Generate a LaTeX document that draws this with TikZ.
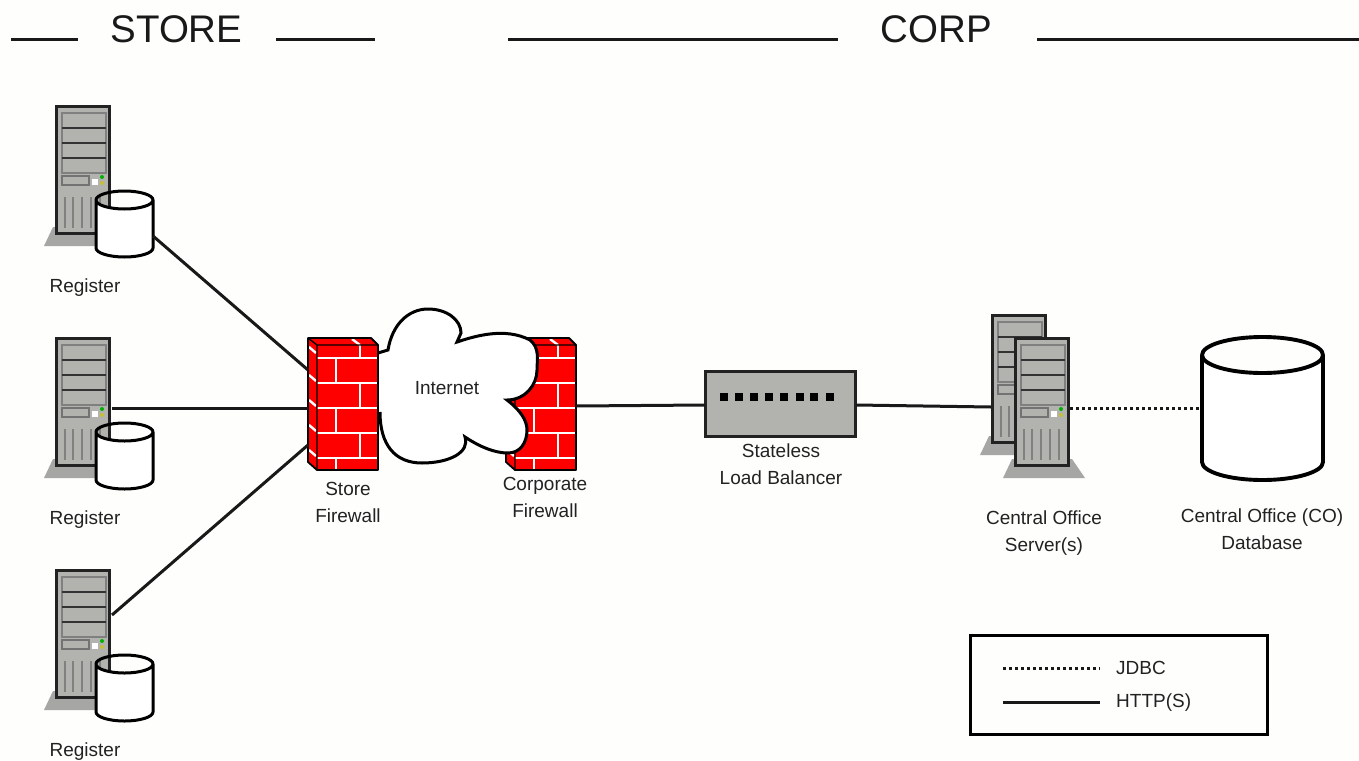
\documentclass[tikz,border=0pt]{standalone}
\usepackage{fontspec}
\setmainfont{Liberation Sans}
\usepackage{tikz}
\tikzset{>=latex}
\definecolor{towergrey}{HTML}{B2B2AE}
\definecolor{basegrey}{HTML}{A6A6A4}
\definecolor{inkgrey}{HTML}{222222}
\definecolor{brickred}{HTML}{FF0000}
\definecolor{paper}{HTML}{FEFEFC}
\tikzset{
  wire/.style={line width=3pt,color=black!90},
  rule/.style={line width=3pt,color=black!90},
  jdbcwire/.style={line width=3pt,color=black!90,dash pattern=on 3pt off 3pt},
  heading/.style={font=\fontsize{38.5}{42}\selectfont,text=black!90,inner sep=0pt},
  devlabel/.style={font=\fontsize{19}{26.5}\selectfont,text=inkgrey,align=center,inner sep=0pt},
  legendlabel/.style={font=\fontsize{19}{22}\selectfont,text=inkgrey,anchor=west,inner sep=0pt},
  balancer/.style={draw=inkgrey,line width=2.8pt,fill=towergrey,minimum width=150pt,minimum height=65pt,inner sep=0pt},
  legendbox/.style={draw=black,line width=3pt,minimum width=297pt,minimum height=99pt,inner sep=0pt},
  pics/tower/.style={code={
    \fill[basegrey] (-2,122) -- (58,122) -- (71,141) -- (-11,141) -- cycle;
    \draw[inkgrey,line width=3pt,fill=towergrey] (1.5,1.5) rectangle (54.5,128.5);
    \draw[black!50,line width=1.4pt] (7,8) rectangle (51,68);
    \foreach \y in {23,38,53} {
      \draw[black!80,line width=1.6pt] (7,\y) -- (51,\y);
    }
    \draw[black!55,line width=1.4pt] (7,71) rectangle (34,80);
    \fill[white] (37,74) rectangle (43,80);
    \fill[green!70!black] (47,72) circle (2pt);
    \fill[yellow!75!black] (47,78) circle (2pt);
    \foreach \x in {10,18,27,36,45} {
      \draw[black!50,line width=1.4pt] (\x,92) -- (\x,123);
    }
  }},
  pics/firewall/.style={code={
    \fill[brickred] (0,0) -- (63,0) -- (70,7) -- (70,132) -- (9,132) -- (0,124) -- cycle;
    \foreach \y in {20,45,70,95,120} {
      \draw[white,line width=2.4pt] (9,\y) -- (70,\y);
    }
    \draw[white,line width=2.4pt] (52,7) -- (52,20) (28,20) -- (28,45) (52,45) -- (52,70)
      (28,70) -- (28,95) (52,95) -- (52,120) (28,120) -- (28,132);
    \draw[white,line width=2.4pt] (44,1) -- (52,7);
    \foreach \y in {12,40,65,90,115} {
      \draw[white,line width=2.4pt] (1,\y-3) -- (8,\y+3);
    }
    \draw[black,line width=1.8pt,line join=round] (0,0) -- (63,0) -- (70,7) -- (70,132) -- (9,132) -- (0,124) -- cycle;
    \draw[black,line width=1.4pt] (0,0) -- (9,7) -- (9,132) (9,7) -- (70,7);
  }}
}
\newcommand{\dbcyl}[5]{% left, top centre, x radius, height, y radius
  \draw[black,line join=round,line width=#5/9*0.9pt+2.1pt,fill=white] (#1,#2) arc[start angle=180,end angle=0,x radius=#3,y radius=#5]
    -- (#1+2*#3,#2+#4) arc[start angle=0,end angle=180,x radius=#3,y radius=#5] -- cycle;
  \draw[black,line width=#5/9*0.9pt+2.1pt] (#1,#2) arc[start angle=180,end angle=360,x radius=#3,y radius=#5];
}

\begin{document}
\begin{tikzpicture}[x=1pt,y=-1pt]
  \useasboundingbox[fill=paper] (0,0) rectangle (1359,760);

  % section headings
  \node[heading] (store) at (176.5,29) {STORE};
  \node[heading] (corp) at (936.5,29) {CORP};
  \coordinate (s1) at (11,40);
  \coordinate (s2) at (78,40);
  \coordinate (s3) at (276,40);
  \coordinate (s4) at (375,40);
  \coordinate (c1) at (508,40);
  \coordinate (c2) at (838,40);
  \coordinate (c3) at (1037,40);
  \coordinate (c4) at (1359,40);
  \draw[rule] (s1) -- (s2);
  \draw[rule] (s3) -- (s4);
  \draw[rule] (c1) -- (c2);
  \draw[rule] (c3) -- (c4);

  % registers
  \foreach \i/\y in {1/105,2/337,3/569} {
    \pic at (55,\y) {tower};
    \dbcyl{96}{\y+95}{28.5}{48}{9}
    \node[devlabel] (reg\i) at (85,\y+183) {Register};
  }
  \coordinate (db1) at (153,236);
  \coordinate (tw2) at (112,408);
  \coordinate (tw3) at (112,615);

  % firewalls and cloud
  \pic at (506,338) {firewall};
  \draw[black,line width=3pt,fill=white] (378,353) -- (388,350)
    .. controls (392,325) and (408,309) .. (428,309)
    .. controls (447,309) and (461,320) .. (461,333)
    -- (457,342)
    .. controls (475,336) and (505,327) .. (530,340)
    .. controls (540,348) and (537,360) .. (537,370)
    .. controls (537,385) and (525,400) .. (507,400)
    .. controls (520,410) and (527,420) .. (527,430)
    .. controls (527,443) and (520,453) .. (508,453)
    .. controls (495,453) and (480,447) .. (465,437)
    .. controls (470,452) and (450,463) .. (422,463)
    .. controls (395,463) and (380,445) .. (380,412);
  \pic at (308,338) {firewall};
  \node[devlabel] (inet) at (447,388) {Internet};
  \node[devlabel] (storefw) at (348,502.5) {Store\\Firewall};
  \node[devlabel] (corpfw) at (545,497.5) {Corporate\\Firewall};
  \coordinate (sf1) at (308,370);
  \coordinate (sf2) at (308,408);
  \coordinate (sf3) at (308,445);
  \coordinate (cf) at (576,406);

  % load balancer
  \node[balancer] (lb) at (780.5,404) {};
  \foreach \x in {724,739,754,769,784,800,814,830} {
    \fill[black] (\x-3.7,393) rectangle (\x+3.7,401);
  }
  \node[devlabel] (lbtext) at (781,464) {Stateless\\Load Balancer};
  \coordinate (lbin) at (705,405);
  \coordinate (lbout) at (856,405);

  % office servers and database
  \pic at (991,314) {tower};
  \pic at (1014,337) {tower};
  \node[devlabel] (srv) at (1044,533) {Central Office\\Server(s)};
  \coordinate (srvin) at (991,407);
  \coordinate (srvout) at (1070,408);
  \dbcyl{1202}{355}{60.5}{107}{18}
  \coordinate (dbin) at (1202,408);
  \node[devlabel] (cotext) at (1262,529) {Central Office (CO)\\Database};

  % connectors
  \draw[wire] (db1) -- (sf1);
  \draw[wire] (tw2) -- (sf2);
  \draw[wire] (tw3) -- (sf3);
  \draw[wire] (cf) -- (lbin);
  \draw[wire] (lbout) -- (srvin);
  \draw[jdbcwire] (srvout) -- (dbin);

  % legend
  \node[legendbox] (legend) at (1119,685) {};
  \coordinate (l1) at (1003,668);
  \coordinate (l2) at (1100,668);
  \coordinate (l3) at (1003,702);
  \coordinate (l4) at (1100,702);
  \draw[jdbcwire] (l1) -- (l2);
  \draw[wire] (l3) -- (l4);
  \node[legendlabel] (jdbc) at (1116,668) {JDBC};
  \node[legendlabel] (http) at (1116,703) {HTTP(S)};
\end{tikzpicture}
\end{document}
